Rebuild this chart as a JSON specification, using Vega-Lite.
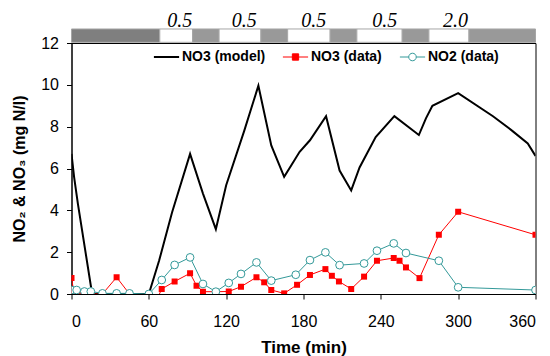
{
  "$schema": "https://vega.github.io/schema/vega-lite/v6.json",
  "padding": {"left": 10.5, "top": 5, "right": 1, "bottom": 0},
  "spacing": 0,
  "bounds": "flush",
  "background": "white",
  "config": {
    "font": "Liberation Sans",
    "axis": {
      "labelFont": "Liberation Sans", "labelFontSize": 16, "labelColor": "black",
      "titleFont": "Liberation Sans", "titleFontWeight": "bold", "titleColor": "black",
      "domainColor": "black", "tickColor": "black", "grid": false, "tickSize": 5
    }
  },
  "resolve": {
    "scale": {"x": "independent", "y": "independent", "color": "independent"},
    "legend": {"color": "independent"}
  },
  "datasets": {
    "header": [
      {"start": 0, "end": 68.5, "kind": "dark"},
      {"start": 68.5, "end": 94, "kind": "white"},
      {"start": 94, "end": 114.5, "kind": "gray"},
      {"start": 114.5, "end": 147, "kind": "white"},
      {"start": 147, "end": 167.7, "kind": "gray"},
      {"start": 167.7, "end": 200.7, "kind": "white"},
      {"start": 200.7, "end": 221.4, "kind": "gray"},
      {"start": 221.4, "end": 256.6, "kind": "white"},
      {"start": 256.6, "end": 277.3, "kind": "gray"},
      {"start": 277.3, "end": 308.4, "kind": "white"},
      {"start": 308.4, "end": 360, "kind": "gray"}
    ],
    "labels": [
      {"t": 84, "label": "0.5"},
      {"t": 134, "label": "0.5"},
      {"t": 188, "label": "0.5"},
      {"t": 243, "label": "0.5"},
      {"t": 298, "label": "2.0"}
    ],
    "series": [
      {"s": "NO3 (model)", "t": 0, "v": 6.7},
      {"s": "NO3 (model)", "t": 2, "v": 5.6},
      {"s": "NO3 (model)", "t": 5, "v": 4.3},
      {"s": "NO3 (model)", "t": 16, "v": 0},
      {"s": "NO3 (model)", "t": 60, "v": 0},
      {"s": "NO3 (model)", "t": 68, "v": 1.6},
      {"s": "NO3 (model)", "t": 78, "v": 3.9},
      {"s": "NO3 (model)", "t": 92, "v": 6.7},
      {"s": "NO3 (model)", "t": 102, "v": 4.8},
      {"s": "NO3 (model)", "t": 112, "v": 3.1},
      {"s": "NO3 (model)", "t": 120, "v": 5.2},
      {"s": "NO3 (model)", "t": 134, "v": 7.8},
      {"s": "NO3 (model)", "t": 145, "v": 9.96},
      {"s": "NO3 (model)", "t": 155, "v": 7.1},
      {"s": "NO3 (model)", "t": 165, "v": 5.6},
      {"s": "NO3 (model)", "t": 172, "v": 6.3},
      {"s": "NO3 (model)", "t": 177, "v": 6.8},
      {"s": "NO3 (model)", "t": 185, "v": 7.35},
      {"s": "NO3 (model)", "t": 197.5, "v": 8.5},
      {"s": "NO3 (model)", "t": 208, "v": 5.9},
      {"s": "NO3 (model)", "t": 217, "v": 4.95},
      {"s": "NO3 (model)", "t": 223.5, "v": 6.05},
      {"s": "NO3 (model)", "t": 236, "v": 7.5},
      {"s": "NO3 (model)", "t": 250.5, "v": 8.5},
      {"s": "NO3 (model)", "t": 269.5, "v": 7.6},
      {"s": "NO3 (model)", "t": 275, "v": 8.4},
      {"s": "NO3 (model)", "t": 280, "v": 9.0},
      {"s": "NO3 (model)", "t": 300, "v": 9.6},
      {"s": "NO3 (model)", "t": 327, "v": 8.5},
      {"s": "NO3 (model)", "t": 342, "v": 7.8},
      {"s": "NO3 (model)", "t": 354, "v": 7.2},
      {"s": "NO3 (model)", "t": 360, "v": 6.6},
      {"s": "NO3 (data)", "t": 0, "v": 0.76},
      {"s": "NO3 (data)", "t": 2, "v": 0.05},
      {"s": "NO3 (data)", "t": 5, "v": 0.02},
      {"s": "NO3 (data)", "t": 10, "v": 0.0},
      {"s": "NO3 (data)", "t": 15, "v": 0.0},
      {"s": "NO3 (data)", "t": 24, "v": 0.0},
      {"s": "NO3 (data)", "t": 35, "v": 0.8},
      {"s": "NO3 (data)", "t": 45, "v": 0.0},
      {"s": "NO3 (data)", "t": 60, "v": -1.1},
      {"s": "NO3 (data)", "t": 70, "v": 0.24},
      {"s": "NO3 (data)", "t": 80, "v": 0.6},
      {"s": "NO3 (data)", "t": 92, "v": 0.99},
      {"s": "NO3 (data)", "t": 97, "v": 0.4},
      {"s": "NO3 (data)", "t": 102, "v": 0.11},
      {"s": "NO3 (data)", "t": 112, "v": 0.11},
      {"s": "NO3 (data)", "t": 122, "v": 0.12},
      {"s": "NO3 (data)", "t": 131.5, "v": 0.35},
      {"s": "NO3 (data)", "t": 143.5, "v": 0.8},
      {"s": "NO3 (data)", "t": 149.5, "v": 0.56},
      {"s": "NO3 (data)", "t": 155, "v": 0.19},
      {"s": "NO3 (data)", "t": 165, "v": 0.03},
      {"s": "NO3 (data)", "t": 175, "v": 0.44},
      {"s": "NO3 (data)", "t": 185, "v": 0.91},
      {"s": "NO3 (data)", "t": 197, "v": 1.19},
      {"s": "NO3 (data)", "t": 202, "v": 0.87},
      {"s": "NO3 (data)", "t": 207.5, "v": 0.6},
      {"s": "NO3 (data)", "t": 217, "v": 0.24},
      {"s": "NO3 (data)", "t": 227, "v": 0.83},
      {"s": "NO3 (data)", "t": 237, "v": 1.59},
      {"s": "NO3 (data)", "t": 250, "v": 1.72},
      {"s": "NO3 (data)", "t": 254.5, "v": 1.59},
      {"s": "NO3 (data)", "t": 259.5, "v": 1.27},
      {"s": "NO3 (data)", "t": 270, "v": 0.76},
      {"s": "NO3 (data)", "t": 285, "v": 2.83},
      {"s": "NO3 (data)", "t": 300, "v": 3.93},
      {"s": "NO3 (data)", "t": 360, "v": 2.83},
      {"s": "NO2 (data)", "t": 0, "v": 0.19},
      {"s": "NO2 (data)", "t": 4, "v": 0.19},
      {"s": "NO2 (data)", "t": 10, "v": 0.12},
      {"s": "NO2 (data)", "t": 15, "v": 0.12},
      {"s": "NO2 (data)", "t": 24, "v": 0.03},
      {"s": "NO2 (data)", "t": 35, "v": 0.03},
      {"s": "NO2 (data)", "t": 45, "v": 0.03},
      {"s": "NO2 (data)", "t": 60, "v": 0.0},
      {"s": "NO2 (data)", "t": 70, "v": 0.67},
      {"s": "NO2 (data)", "t": 80, "v": 1.39},
      {"s": "NO2 (data)", "t": 92, "v": 1.75},
      {"s": "NO2 (data)", "t": 102, "v": 0.48},
      {"s": "NO2 (data)", "t": 112, "v": 0.11},
      {"s": "NO2 (data)", "t": 122, "v": 0.53},
      {"s": "NO2 (data)", "t": 131.5, "v": 0.96},
      {"s": "NO2 (data)", "t": 143.5, "v": 1.51},
      {"s": "NO2 (data)", "t": 155, "v": 0.64},
      {"s": "NO2 (data)", "t": 174, "v": 0.92},
      {"s": "NO2 (data)", "t": 185, "v": 1.62},
      {"s": "NO2 (data)", "t": 197, "v": 1.99},
      {"s": "NO2 (data)", "t": 208, "v": 1.38},
      {"s": "NO2 (data)", "t": 227, "v": 1.46},
      {"s": "NO2 (data)", "t": 237, "v": 2.07},
      {"s": "NO2 (data)", "t": 250, "v": 2.42},
      {"s": "NO2 (data)", "t": 259.5, "v": 1.96},
      {"s": "NO2 (data)", "t": 285, "v": 1.59},
      {"s": "NO2 (data)", "t": 300, "v": 0.32},
      {"s": "NO2 (data)", "t": 360, "v": 0.19}
    ]
  },
  "vconcat": [
    {
      "width": 464,
      "height": 37.3,
      "view": {"stroke": null},
      "layer": [
        {
          "data": {"name": "header"},
          "mark": {"type": "rect", "stroke": "#a6a6a6", "strokeWidth": 1},
          "encoding": {
            "x": {"field": "start", "type": "quantitative", "scale": {"domain": [0, 360], "nice": false, "zero": false}, "axis": null},
            "x2": {"field": "end"},
            "y": {"datum": 0, "type": "quantitative", "scale": {"domain": [0, 2.8], "nice": false}, "axis": null},
            "y2": {"datum": 1},
            "color": {"field": "kind", "type": "nominal", "scale": {"domain": ["dark", "gray", "white"], "range": ["#7f7f7f", "#999999", "#ffffff"]}, "legend": null}
          }
        },
        {
          "data": {"name": "labels"},
          "mark": {"type": "text", "font": "Liberation Serif", "fontStyle": "italic", "fontSize": 20, "baseline": "alphabetic", "dy": -1.5, "color": "black"},
          "encoding": {
            "x": {"field": "t", "type": "quantitative", "axis": null},
            "y": {"datum": 1, "type": "quantitative", "axis": null},
            "text": {"field": "label"}
          }
        }
      ]
    },
    {
      "width": 464,
      "height": 251,
      "data": {"name": "series"},
      "view": {"stroke": "black", "strokeWidth": 1},
      "encoding": {
        "x": {"field": "t", "type": "quantitative", "scale": {"domain": [0, 360], "nice": false},
              "axis": {"values": [0, 60, 120, 180, 240, 300, 360], "title": "Time (min)", "titleFontSize": 17, "labelPadding": 14, "titlePadding": 10}},
        "y": {"field": "v", "type": "quantitative", "scale": {"domain": [0, 12], "nice": false},
              "axis": {"values": [0, 2, 4, 6, 8, 10, 12], "title": "NO₂ & NO₃ (mg N/l)", "titleFontSize": 16, "labelPadding": 8, "titlePadding": 13}}
      },
      "layer": [
        {
          "mark": {"type": "line", "clip": true},
          "encoding": {
            "color": {"field": "s", "type": "nominal",
              "scale": {"domain": ["NO3 (model)", "NO3 (data)", "NO2 (data)"], "range": ["#000000", "#ff0000", "#339999"]},
              "legend": {
                "orient": "none", "legendX": 88, "legendY": 7, "direction": "horizontal", "title": null,
                "labelFont": "Liberation Sans", "labelFontSize": 14, "labelFontWeight": "bold", "labelColor": "black",
                "symbolSize": 324, "labelOffset": 8.5, "columnPadding": 15, "padding": 0,
                "encode": {
                  "symbols": {
                    "update": {
                      "shape": {"signal": "datum.value === 'NO3 (model)' ? 'M-1.4,0H1.4' : datum.value === 'NO3 (data)' ? 'M-1.4,0H1.4M-0.35,-0.35H0.35V0.35H-0.35Z' : 'M-1.4,0H-0.42M0.42,0H1.4M0.42,0A0.42,0.42,0,1,1,-0.42,0A0.42,0.42,0,1,1,0.42,0'"},
                      "fill": {"signal": "datum.value === 'NO3 (data)' ? '#ff0000' : datum.value === 'NO2 (data)' ? '#ffffff' : 'transparent'"},
                      "stroke": {"signal": "datum.value === 'NO3 (model)' ? '#000000' : datum.value === 'NO3 (data)' ? '#ff0000' : '#339999'"},
                      "strokeWidth": {"signal": "datum.value === 'NO3 (model)' ? 2 : 1"},
                      "opacity": {"value": 1},
                      "fillOpacity": {"value": 1}
                    }
                  }
                }
              }
            },
            "strokeWidth": {"condition": {"test": "datum.s === 'NO3 (model)'", "value": 2}, "value": 1}
          }
        },
        {
          "transform": [{"filter": "datum.s === 'NO3 (data)'"}],
          "mark": {"type": "point", "shape": "square", "filled": true, "size": 36, "color": "#ff0000", "opacity": 1, "clip": true}
        },
        {
          "transform": [{"filter": "datum.s === 'NO2 (data)'"}],
          "mark": {"type": "point", "shape": "circle", "filled": false, "fill": "#ffffff", "fillOpacity": 1, "stroke": "#339999", "strokeWidth": 1, "size": 60, "opacity": 1, "clip": true}
        }
      ]
    }
  ]
}
